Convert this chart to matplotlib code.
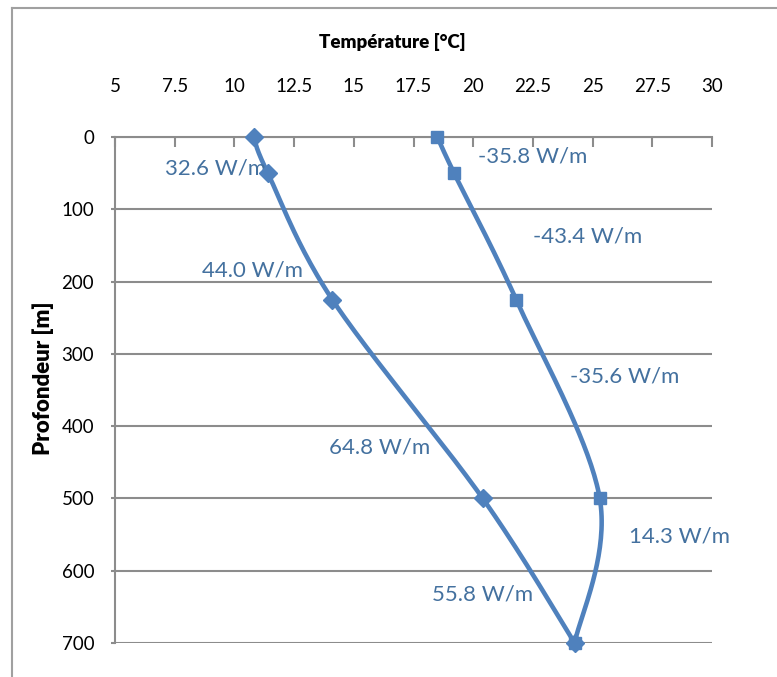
import matplotlib.pyplot as plt
import numpy as np
from matplotlib.lines import Line2D

# profils de température (°C) en fonction de la profondeur (m)
depth_a = np.array([0, 50, 225, 500, 700])
temp_a = np.array([10.8, 11.4, 14.1, 20.4, 24.25])

depth_b = np.array([0, 50, 225, 500, 700])
temp_b = np.array([18.5, 19.2, 21.8, 25.3, 24.25])

labels = ["32.6 W/m", "44.0 W/m", "64.8 W/m", "55.8 W/m",
          "-35.8 W/m", "-43.4 W/m", "-35.6 W/m", "14.3 W/m"]
label_x = [9.2, 10.75, 16.1, 20.4, 22.5, 24.8, 26.35, 28.65]
label_y = [43, 184, 430, 633, 27, 138, 331, 553]

xmin, xmax = 5, 30
ymin, ymax = 0, 700
blue = "#4f81bd"
txtblue = "#44719f"
grey = "#8c8c8c"
plt.rcParams["font.family"] = ["Lato", "DejaVu Sans"]


def smooth(x, y, sx, sy, n=40):
    # courbe lissée type Excel (bezier, tension 1/6), calculée en pixels
    px, py = x * sx, y * sy
    P = np.column_stack([px, py])
    P = np.vstack([P[0], P, P[-1]])
    out = []
    for i in range(1, len(P) - 2):
        p0, p3 = P[i], P[i + 1]
        c1 = p0 + (P[i + 1] - P[i - 1]) / 6
        c2 = p3 - (P[i + 2] - P[i]) / 6
        t = np.linspace(0, 1, n)[:, None]
        seg = ((1 - t) ** 3 * p0 + 3 * (1 - t) ** 2 * t * c1
               + 3 * (1 - t) * t ** 2 * c2 + t ** 3 * p3)
        out.append(seg)
    out = np.vstack(out)
    return out[:, 0] / sx, out[:, 1] / sy


fig = plt.figure(figsize=(7.77, 6.77), dpi=100)
ax = fig.add_axes([115 / 777, 1 - 643 / 677, 597 / 777, 506 / 677])

sx = 597 / (xmax - xmin)
sy = 506 / (ymax - ymin)

xa, ya = smooth(temp_a, depth_a, sx, sy)
xb, yb = smooth(temp_b, depth_b, sx, sy)
ax.plot(xa, ya, color=blue, lw=3.3, solid_capstyle="round", zorder=3)
ax.plot(xb, yb, color=blue, lw=3.3, solid_capstyle="round", zorder=3)
ax.plot(temp_a, depth_a, "D", color=blue, ms=9.5, zorder=4, clip_on=False)
ax.plot(temp_b, depth_b, "s", color=blue, ms=9, zorder=4, clip_on=False)

for s, x, y in zip(labels, label_x, label_y):
    ax.text(x, y, s, color=txtblue, fontsize=16, ha="center", va="center")

ax.set_xlim(xmin, xmax)
ax.set_ylim(ymax, ymin)
ax.xaxis.tick_top()
ax.set_xticks(np.arange(5, 30.1, 2.5))
ax.set_xticklabels(["5", "7.5", "10", "12.5", "15", "17.5", "20", "22.5", "25", "27.5", "30"])
ax.set_yticks(np.arange(0, 701, 100))
ax.tick_params(axis="x", direction="in", length=7, width=1.5, color=grey,
               pad=30, labelsize=13.5)
ax.tick_params(axis="y", direction="out", length=3, width=1.5, color=grey,
               pad=12, labelsize=13.5)
ax.grid(axis="y", color=grey, lw=1.5)
ax.set_axisbelow(True)
for side in ["right", "bottom"]:
    ax.spines[side].set_visible(False)
for side in ["left", "top"]:
    ax.spines[side].set_color(grey)
    ax.spines[side].set_linewidth(1.5)

fig.text(392 / 777, 1 - 42 / 677, "Température [°C]", ha="center", va="center",
         fontsize=13.5, fontweight="heavy")
fig.text(43 / 777, 1 - 378 / 677, "Profondeur [m]", ha="center", va="center",
         rotation=90, fontsize=16, fontweight="heavy")

# cadre extérieur
fig.add_artist(Line2D([12 / 777, 12 / 777], [0, 1 - 8 / 677],
                      transform=fig.transFigure, color="#a0a0a0", lw=1.5))
fig.add_artist(Line2D([12 / 777, 1], [1 - 8 / 677, 1 - 8 / 677],
                      transform=fig.transFigure, color="#a0a0a0", lw=1.5))

plt.savefig("out.png", dpi=100)
